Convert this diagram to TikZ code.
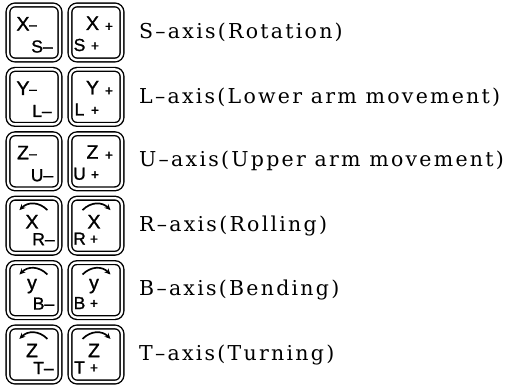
\documentclass[tikz,border=0pt]{standalone}
\usepackage{fontspec}
\setmainfont{DejaVu Serif}
\newfontfamily\keyfont[FakeBold=1.2]{Liberation Sans}
\usetikzlibrary{arrows.meta}
\newcommand\plainrow[4]{% #1 row, #2 big letter, #3 sub letter, #4 label
  \pgfmathsetmacro\rc{32.5+64.4*#1}
  \node[keyb] (m#1) at (34,\rc) {};
  \node[keyb] (p#1) at (96,\rc) {};
  \begin{scope}[shift={(m#1.center)}]
    \node[big] (mb#1) at (-11,-8.7) {#2};
    \node[sml] (md#1) at (-1,-5) {–};
    \node[mid] (ms#1) at (8,14) {#3–};
  \end{scope}
  \begin{scope}[shift={(p#1.center)}]
    \node[big] (pb#1) at (-3.5,-9.3) {#2};
    \node[sml] (pd#1) at (13,-5.5) {+};
    \node[mid] (ps#1) at (-16.5,12.5) {#3};
    \node[sml] (pp#1) at (-1,14) {+};
  \end{scope}
  \node[lab] (t#1) at (139,\rc) {#4};
}
\newcommand\arcrow[4]{% #1 row, #2 big letter, #3 sub letter, #4 label
  \pgfmathsetmacro\rc{32.5+64.4*#1}
  \node[keyb] (m#1) at (34,\rc) {};
  \node[keyb] (p#1) at (96,\rc) {};
  \begin{scope}[shift={(m#1.center)}]
    \coordinate (ma#1) at (-14.6,-15.6);
    \coordinate (mz#1) at (13.4,-15.6);
    \draw[arcl, {Stealth[length=6pt,width=5.5pt]}-] (ma#1) .. controls (-6,-24.1) and (5,-24.1) .. (mz#1);
    \node[big] (mb#1) at (-2,-4) {#2};
    \node[mid] (ms#1) at (9.5,13.5) {#3–};
  \end{scope}
  \begin{scope}[shift={(p#1.center)}]
    \coordinate (pa#1) at (-13.5,-15.6);
    \coordinate (pz#1) at (14.5,-15.6);
    \draw[arcl, -{Stealth[length=6pt,width=5.5pt]}] (pa#1) .. controls (-5,-24.1) and (6,-24.1) .. (pz#1);
    \node[big] (pb#1) at (-2,-4) {#2};
    \node[mid] (ps#1) at (-16.5,13) {#3};
    \node[sml] (pp#1) at (-2,14) {+};
  \end{scope}
  \node[lab] (t#1) at (139,\rc) {#4};
}
\begin{document}
\begin{tikzpicture}[x=1pt,y=-1pt,
  keyb/.style={draw, line width=1.4pt, double, double distance=2.3pt, rounded corners=7pt,
    minimum width=52pt, minimum height=55pt, inner sep=0pt},
  big/.style={font=\keyfont\fontsize{19.5}{19.5}\selectfont, inner sep=0pt},
  mid/.style={font=\keyfont\fontsize{17.5}{17.5}\selectfont, inner sep=0pt},
  sml/.style={font=\keyfont\fontsize{14}{14}\selectfont, inner sep=0pt},
  lab/.style={anchor=west, inner sep=0pt,
    font=\fontsize{20.5}{20.5}\selectfont\addfontfeature{LetterSpace=11}},
  arcl/.style={line width=1.7pt}]
\useasboundingbox (0,0) rectangle (510,387);
\plainrow{0}{X}{S}{S–axis(Rotation)}
\plainrow{1}{Y}{L}{L–axis(Lower arm movement)}
\plainrow{2}{Z}{U}{U–axis(Upper arm movement)}
\arcrow{3}{X}{R}{R–axis(Rolling)}
\arcrow{4}{y}{B}{B–axis(Bending)}
\arcrow{5}{Z}{T}{T–axis(Turning)}
\end{tikzpicture}
\end{document}
